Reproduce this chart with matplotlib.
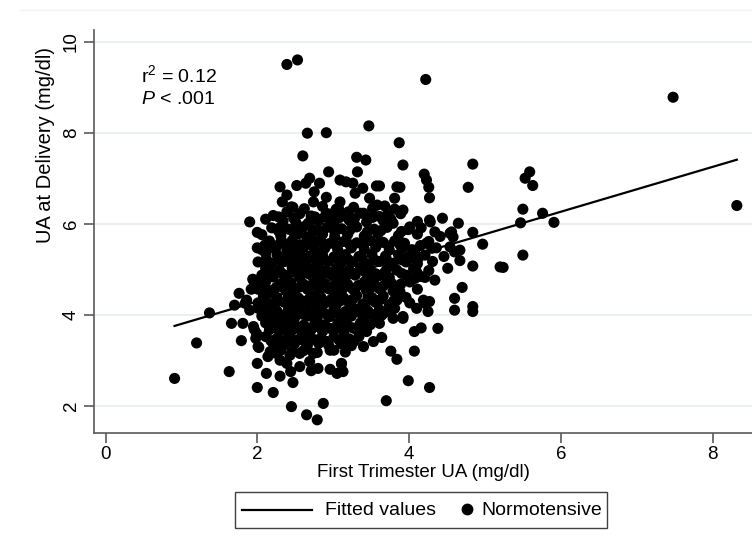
import numpy as np
import matplotlib
matplotlib.use("Agg")
import matplotlib.pyplot as plt
from matplotlib.lines import Line2D
from matplotlib.patches import Rectangle

plt.rcParams['font.family'] = ['Liberation Sans', 'DejaVu Sans']
plt.rcParams['mathtext.fontset'] = 'custom'
plt.rcParams['mathtext.rm'] = 'Liberation Sans'
plt.rcParams['mathtext.it'] = 'Liberation Sans:italic'

# ---------- data (first trimester UA, UA at delivery) ----------
left_tail = [(0.91, 2.60), (1.20, 3.38), (1.37, 4.04), (1.63, 2.75), (1.66, 3.81), (1.79, 3.43),
             (1.70, 4.21), (1.76, 4.47), (1.84, 4.25), (1.81, 3.81), (1.90, 6.04), (2.00, 5.81),
             (2.11, 6.10), (2.00, 5.47), (2.11, 5.35), (2.14, 5.02), (1.95, 4.76), (2.03, 4.73),
             (1.97, 4.58), (1.96, 3.68), (1.98, 3.48), (2.02, 3.28), (1.94, 4.78), (1.92, 4.56),
             (1.90, 4.10), (1.86, 4.32), (2.01, 4.14), (1.95, 3.74), (1.99, 3.59), (2.01, 3.30)]

lower_tail = [(2.00, 2.93), (2.12, 2.71), (2.00, 2.40), (2.21, 2.29), (2.17, 3.15), (2.30, 2.65),
              (2.47, 2.51), (2.45, 1.98), (2.65, 1.80), (2.79, 1.69), (2.87, 2.05), (2.96, 2.80),
              (3.13, 2.75), (3.11, 2.93), (2.71, 2.77), (2.44, 2.75), (2.30, 3.00), (3.70, 2.11),
              (3.99, 2.55), (4.27, 2.40), (3.84, 3.02), (3.76, 3.20), (4.07, 3.20), (2.96, 3.22),
              (2.69, 2.97), (2.74, 3.15), (2.56, 3.15), (2.43, 3.11), (2.17, 3.19), (2.14, 3.08),
              (2.25, 3.15), (2.39, 2.93), (2.56, 2.86), (2.80, 2.82), (3.05, 2.71), (3.40, 3.30),
              (3.53, 3.41), (3.64, 3.50), (3.11, 2.92)]

right_tail = [(4.38, 3.70), (4.07, 3.63), (4.16, 3.71), (3.64, 3.99), (4.25, 4.07), (3.92, 3.96),
              (3.37, 3.81), (3.92, 3.92), (4.10, 4.14), (4.21, 4.25), (4.60, 4.10), (4.60, 4.36),
              (4.84, 4.07), (4.84, 4.18), (4.70, 4.60), (4.84, 5.07), (4.67, 5.19), (4.34, 4.76),
              (4.21, 4.82), (4.08, 4.80), (3.88, 4.51), (3.84, 4.32), (3.77, 4.69), (3.55, 4.87),
              (3.46, 4.40), (3.81, 4.14), (5.20, 5.05), (5.24, 5.04), (5.50, 5.31), (4.97, 5.55),
              (4.84, 5.81), (4.65, 6.01), (4.54, 5.79), (4.58, 5.71), (4.54, 5.49), (4.60, 5.38),
              (4.67, 5.42), (4.44, 6.12), (4.34, 5.82), (4.28, 6.04), (4.30, 5.46), (4.23, 5.57),
              (4.27, 6.08), (4.56, 5.82), (4.01, 5.93), (4.08, 5.35), (4.12, 5.24), (5.47, 6.02),
              (5.91, 6.03), (5.76, 6.23), (5.50, 6.32), (5.63, 6.84), (5.53, 7.00), (5.59, 7.14),
              (7.48, 8.78), (8.32, 6.40), (4.19, 4.32), (4.27, 4.29)]

upper_tail = [(2.39, 9.50), (2.53, 9.60), (4.22, 9.17), (2.66, 7.99), (2.91, 8.00), (3.47, 8.15),
              (2.60, 7.49), (3.31, 7.46), (3.43, 7.40), (3.87, 7.78), (3.92, 7.29), (3.88, 6.80),
              (3.92, 6.30), (4.20, 7.09), (4.23, 6.96), (4.26, 6.80), (4.27, 6.57), (4.84, 7.31),
              (4.78, 6.80), (2.94, 7.14), (3.32, 7.14), (2.30, 6.81), (2.52, 6.84), (2.69, 7.00),
              (2.64, 6.89), (2.82, 6.89), (3.09, 6.96), (3.17, 6.92), (3.26, 6.89), (3.39, 6.78),
              (3.57, 6.83), (3.84, 6.81), (3.61, 6.83), (3.29, 6.67), (2.91, 6.58), (3.09, 6.48),
              (3.48, 6.56), (3.58, 6.41), (3.81, 6.56), (3.07, 6.34), (3.20, 6.26), (3.40, 6.23),
              (3.81, 6.32), (3.71, 6.19), (2.89, 6.15), (2.98, 6.08), (2.75, 6.70), (2.39, 6.63),
              (2.33, 6.48), (2.74, 6.48), (2.47, 6.36), (2.39, 6.26), (2.28, 6.15), (2.30, 5.92),
              (2.48, 5.81), (2.67, 6.01), (2.76, 6.15), (2.91, 6.23), (2.25, 5.49), (2.30, 5.57),
              (2.39, 5.42), (2.52, 5.35), (2.65, 5.71), (2.12, 5.09), (2.17, 4.94), (2.08, 4.40),
              (2.03, 4.18), (2.21, 4.47)]

core = [(2.45, 6.37), (2.62, 6.33), (2.86, 6.38), (3.04, 6.32), (3.27, 6.36), (3.52, 6.34), (3.68, 6.39),
        (2.21, 6.18), (2.56, 6.22), (2.71, 6.17), (2.96, 6.21), (3.14, 6.19), (3.36, 6.23), (3.61, 6.16), (3.89, 6.22),
        (2.34, 6.06), (2.51, 6.02), (2.81, 6.07), (3.01, 6.03), (3.21, 6.08), (3.44, 6.04), (3.66, 6.07), (3.79, 6.01), (4.11, 6.05),
        (2.19, 5.91), (2.41, 5.88), (2.61, 5.93), (2.74, 5.87), (2.92, 5.92), (3.11, 5.89), (3.31, 5.93), (3.54, 5.88),
        (3.71, 5.92), (3.99, 5.87), (4.16, 5.91),
        (2.06, 5.76), (2.31, 5.73), (2.54, 5.78), (2.71, 5.74), (2.86, 5.77), (3.02, 5.72), (3.19, 5.76), (3.41, 5.73),
        (3.59, 5.78), (3.86, 5.74), (4.11, 5.77), (4.41, 5.72),
        (2.16, 5.62), (2.34, 5.58), (2.46, 5.63), (2.66, 5.59), (2.79, 5.62), (2.96, 5.57), (3.14, 5.61), (3.31, 5.58),
        (3.49, 5.63), (3.66, 5.59), (3.81, 5.62), (3.94, 5.57), (4.26, 5.61),
        (2.06, 5.43), (2.21, 5.47), (2.49, 5.44), (2.61, 5.48), (2.76, 5.42), (2.89, 5.46), (3.06, 5.43), (3.24, 5.47),
        (3.41, 5.44), (3.56, 5.48), (3.74, 5.42), (3.91, 5.46), (4.04, 5.43), (4.36, 5.47),
        (2.26, 5.32), (2.39, 5.28), (2.56, 5.33), (2.69, 5.29), (2.86, 5.31), (3.01, 5.27), (3.16, 5.32), (3.34, 5.28),
        (3.51, 5.33), (3.69, 5.29), (3.86, 5.32), (3.99, 5.27), (4.21, 5.31), (4.46, 5.28),
        (2.01, 5.16), (2.19, 5.13), (2.36, 5.17), (2.51, 5.12), (2.64, 5.16), (2.81, 5.13), (2.94, 5.17), (3.11, 5.14),
        (3.26, 5.16), (3.44, 5.12), (3.61, 5.17), (3.79, 5.13), (3.96, 5.16), (4.11, 5.12), (4.31, 5.17),
        (2.11, 5.02), (2.29, 4.98), (2.46, 5.03), (2.61, 4.99), (2.74, 5.02), (2.91, 4.97), (3.04, 5.01), (3.21, 4.98),
        (3.36, 5.03), (3.49, 4.99), (3.71, 5.02), (3.84, 4.98), (4.06, 5.01), (4.26, 4.97), (4.51, 5.02),
        (2.06, 4.87), (2.21, 4.83), (2.39, 4.86), (2.56, 4.82), (2.71, 4.87), (2.84, 4.83), (3.01, 4.86), (3.16, 4.82),
        (3.29, 4.87), (3.46, 4.83), (3.61, 4.86), (3.74, 4.82), (3.96, 4.87), (4.16, 4.84),
        (2.11, 4.72), (2.31, 4.68), (2.44, 4.71), (2.61, 4.67), (2.76, 4.72), (2.89, 4.68), (3.06, 4.71), (3.19, 4.67),
        (3.41, 4.72), (3.54, 4.68), (3.71, 4.71), (3.89, 4.67), (4.01, 4.72),
        (2.01, 4.56), (2.16, 4.53), (2.36, 4.57), (2.49, 4.52), (2.66, 4.56), (2.81, 4.53), (2.94, 4.57), (3.11, 4.52),
        (3.26, 4.56), (3.44, 4.53), (3.61, 4.57), (3.79, 4.52), (4.11, 4.56),
        (2.11, 4.42), (2.26, 4.38), (2.41, 4.41), (2.54, 4.37), (2.71, 4.42), (2.84, 4.38), (3.01, 4.41), (3.14, 4.37),
        (3.31, 4.42), (3.51, 4.38), (3.66, 4.41), (3.96, 4.38),
        (2.01, 4.26), (2.19, 4.23), (2.36, 4.27), (2.51, 4.22), (2.61, 4.26), (2.76, 4.23), (2.91, 4.27), (3.04, 4.22),
        (3.21, 4.26), (3.39, 4.23), (3.56, 4.27), (3.74, 4.22), (4.01, 4.26),
        (2.11, 4.12), (2.26, 4.08), (2.41, 4.11), (2.56, 4.07), (2.69, 4.12), (2.86, 4.08), (3.01, 4.11), (3.16, 4.07),
        (3.29, 4.12), (3.46, 4.08), (3.61, 4.11), (3.71, 4.07),
        (2.06, 3.97), (2.21, 3.93), (2.36, 3.96), (2.49, 3.92), (2.66, 3.97), (2.79, 3.93), (2.96, 3.96), (3.11, 3.92),
        (3.24, 3.97), (3.41, 3.93), (3.56, 3.96), (3.79, 3.92),
        (2.11, 3.82), (2.31, 3.78), (2.44, 3.81), (2.61, 3.77), (2.76, 3.82), (2.89, 3.78), (3.06, 3.81), (3.19, 3.77),
        (3.36, 3.82), (3.49, 3.78), (3.61, 3.81),
        (2.16, 3.67), (2.29, 3.63), (2.46, 3.66), (2.59, 3.62), (2.71, 3.67), (2.86, 3.63), (3.01, 3.66), (3.14, 3.62),
        (3.31, 3.67), (3.44, 3.63),
        (2.11, 3.52), (2.26, 3.48), (2.41, 3.51), (2.56, 3.47), (2.69, 3.52), (2.84, 3.48), (3.01, 3.51), (3.21, 3.47),
        (3.34, 3.52),
        (2.21, 3.37), (2.36, 3.33), (2.49, 3.36), (2.66, 3.32), (2.81, 3.37), (2.94, 3.33), (3.11, 3.36), (3.24, 3.32),
        (2.31, 3.22), (2.46, 3.18), (2.61, 3.21), (2.79, 3.17), (3.01, 3.22), (3.16, 3.18)]

core_fill = [(2.48, 6.12), (2.78, 6.10), (3.08, 6.13), (3.28, 6.11), (3.52, 6.14), (3.76, 6.10),
             (2.28, 5.84), (2.50, 5.82), (2.82, 5.85), (3.02, 5.83), (3.22, 5.86), (3.45, 5.82), (3.63, 5.85), (3.90, 5.83),
             (2.10, 5.53), (2.40, 5.51), (2.56, 5.54), (2.72, 5.52), (2.88, 5.55), (3.05, 5.51), (3.22, 5.54), (3.40, 5.52),
             (3.58, 5.55), (3.73, 5.51), (3.88, 5.54), (4.15, 5.52),
             (2.12, 5.22), (2.30, 5.20), (2.45, 5.23), (2.60, 5.21), (2.74, 5.24), (2.88, 5.20), (3.04, 5.23), (3.20, 5.21),
             (3.38, 5.24), (3.55, 5.20), (3.70, 5.23), (3.90, 5.21), (4.05, 5.24),
             (2.15, 4.92), (2.33, 4.90), (2.50, 4.93), (2.66, 4.91), (2.80, 4.94), (2.95, 4.90), (3.10, 4.93), (3.26, 4.91),
             (3.42, 4.94), (3.56, 4.90), (3.68, 4.93), (3.90, 4.91), (4.10, 4.94),
             (2.06, 4.62), (2.25, 4.60), (2.42, 4.63), (2.56, 4.61), (2.70, 4.64), (2.86, 4.60), (3.00, 4.63), (3.15, 4.61),
             (3.33, 4.64), (3.50, 4.60), (3.66, 4.63), (3.85, 4.61),
             (2.08, 4.32), (2.28, 4.30), (2.45, 4.33), (2.58, 4.31), (2.68, 4.34), (2.82, 4.30), (2.97, 4.33), (3.10, 4.31),
             (3.26, 4.34), (3.45, 4.30), (3.62, 4.33), (3.80, 4.31),
             (2.15, 4.02), (2.30, 4.00), (2.45, 4.03), (2.60, 4.01), (2.75, 4.04), (2.92, 4.00), (3.06, 4.03), (3.20, 4.01),
             (3.36, 4.04), (3.52, 4.00), (3.66, 4.03),
             (2.22, 3.72), (2.38, 3.70), (2.52, 3.73), (2.66, 3.71), (2.80, 3.74), (2.96, 3.70), (3.10, 3.73), (3.26, 3.71),
             (3.40, 3.74),
             (2.18, 3.43), (2.32, 3.41), (2.48, 3.44), (2.62, 3.42), (2.76, 3.45), (2.92, 3.41), (3.08, 3.44), (3.28, 3.42)]

# fitted regression line as printed on the chart
fit_slope = 0.493
fit_intercept = 3.305
fit_x = [0.91, 8.32]

r2_text = "r$^2$ = 0.12"
p_text = "$\\it{P}$ < .001"
legend_labels = ["Fitted values", "Normotensive"]


def main():
    pts = np.array(left_tail + lower_tail + right_tail + upper_tail + core + core_fill)
    ua_first, ua_delivery = pts[:, 0], pts[:, 1]

    fig = plt.figure(figsize=(7.52, 5.5), dpi=100)
    ax = fig.add_axes([0.125, 0.2127, 0.875, 0.7327])

    grid_col = '#e8f0f2'
    axis_col = '#5a5a5a'

    ax.set_xlim(-0.152, 8.52)
    ax.set_ylim(1.40, 10.257)
    for yv in [2, 4, 6, 8, 10]:
        ax.axhline(yv, color=grid_col, lw=1.4, zorder=0)

    fx = np.array(fit_x)
    ax.plot(fx, fit_intercept + fit_slope * fx, color='black', lw=1.6, zorder=2)
    ax.scatter(ua_first, ua_delivery, s=64, color='black', edgecolors='none', zorder=3)

    for side in ['top', 'right']:
        ax.spines[side].set_visible(False)
    for side in ['left', 'bottom']:
        ax.spines[side].set_color(axis_col)
        ax.spines[side].set_linewidth(1.2)

    ax.set_xticks([0, 2, 4, 6, 8])
    ax.set_yticks([2, 4, 6, 8, 10])
    ax.tick_params(axis='both', colors=axis_col, labelcolor='black', length=7, width=1.2, labelsize=13.5)
    ax.tick_params(axis='x', pad=2)
    ax.tick_params(axis='y', labelrotation=90, pad=3)
    for lab in ax.get_yticklabels():
        lab.set_verticalalignment('center')

    ax.set_xlabel("First Trimester UA (mg/dl)", fontsize=13.5, labelpad=1)
    ax.set_ylabel("UA at Delivery (mg/dl)", fontsize=14.5, labelpad=6)
    ax.yaxis.set_label_coords(-0.059, 0.715)

    ax.text(0.47, 9.27, r2_text, fontsize=14, va='center')
    ax.text(0.47, 8.72, p_text, fontsize=14, va='center')

    # faint outer frame line at the very top
    fig.add_artist(Line2D([0.027, 1.0], [0.982, 0.982], transform=fig.transFigure,
                          color='#f0f4f5', lw=1.0))

    # legend box below the plot, laid out like the original
    fig.add_artist(Rectangle((0.3125, 0.040), 0.4945, 0.0655, transform=fig.transFigure,
                             facecolor='white', edgecolor='#404040', lw=1.0))
    fig.add_artist(Line2D([0.322, 0.415], [0.0727, 0.0727], transform=fig.transFigure,
                          color='black', lw=1.6))
    fig.text(0.432, 0.0727, legend_labels[0], fontsize=14, va='center')
    fig.add_artist(Line2D([0.621], [0.0745], transform=fig.transFigure, color='black',
                          marker='o', ls='none', markersize=7.5))
    fig.text(0.640, 0.0727, legend_labels[1], fontsize=14, va='center')

    fig.savefig("out.png", dpi=100)


if __name__ == '__main__':
    main()
